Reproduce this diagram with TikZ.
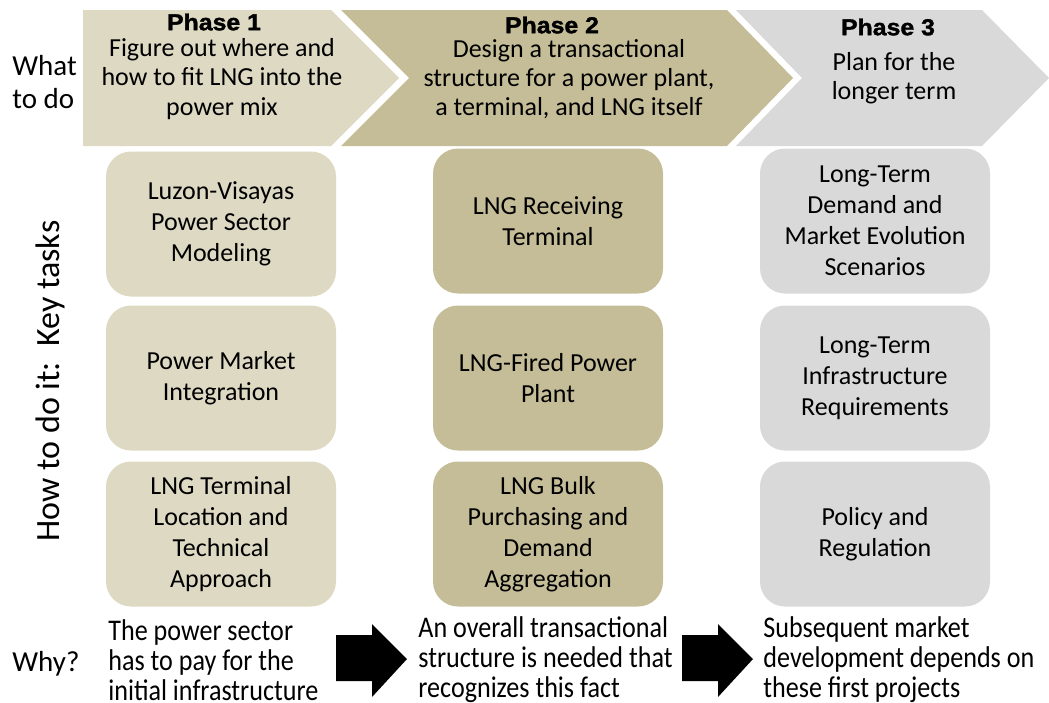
\documentclass[tikz,border=0pt]{standalone}
\usepackage{fontspec}
\setmainfont{Carlito}
\newfontfamily\phasefont{Liberation Sans}[UprightFont={* Bold},FakeBold=1.5,FakeStretch=1.08]
\newfontfamily\narrowfont{Carlito}[FakeStretch=0.87]
\definecolor{tanlight}{HTML}{DDD9C3}
\definecolor{tandark}{HTML}{C4BD97}
\definecolor{greylight}{HTML}{D9D9D9}
\tikzset{
  phasetitle/.style={font=\phasefont\fontsize{11.5}{12}\selectfont, inner sep=0pt},
  whattext/.style={align=center, inner sep=0pt, font=\fontsize{13}{14.6}\selectfont},
  taskbox/.style={rounded corners=12.5pt, minimum width=115pt, minimum height=72.5pt,
    align=center, inner sep=0pt, font=\fontsize{13}{15.5}\selectfont},
  whytext/.style={anchor=west, align=left, inner sep=0pt, font=\narrowfont\fontsize{15}{15}\selectfont},
  sidelabel/.style={inner sep=0pt, font=\fontsize{14.5}{16.5}\selectfont},
}
\begin{document}
\begin{tikzpicture}[x=0.5pt,y=-0.5pt]
 \useasboundingbox (0,0) rectangle (1049,702);
 \clip (0,0) rectangle (1049,702);
 % chevrons
 \fill[tanlight](83,10)--(331,10)--(399,78)--(331,146)--(83,146)--cycle;
 \fill[tandark](341,10)--(727,10)--(793,78)--(727,146)--(341,146)--(409,78)--cycle;
 \fill[greylight](736,10)--(982,10)--(1049,78)--(982,146)--(736,146)--(802,78)--cycle;
 \node[phasetitle] (ph1) at (214,22) {Phase 1};
 \node[phasetitle] (ph2) at (552,25) {Phase 2};
 \node[phasetitle] (ph3) at (888,27) {Phase 3};
 \node[whattext] (what1) at (222,79) {Figure out where and\\how to fit LNG into the\\power mix};
 \node[whattext] (what2) at (569,79) {Design a transactional\\structure for a power plant,\\a terminal, and LNG itself};
 \node[whattext] (what3) at (894,78) {Plan for the\\longer term};
 % side labels
 \node[sidelabel, anchor=west, align=left] (whatlbl) at (12,82) {What\\to do};
 \node[sidelabel, rotate=90, font=\fontsize{17}{17}\selectfont] (howlbl) at (50,381) {How to do it:\ \ Key tasks};
 \node[sidelabel, anchor=west] (whylbl) at (12,664) {Why?};
 % key tasks
 \node[taskbox, fill=tanlight] (t11) at (221,224) {Luzon-Visayas\\Power Sector\\Modeling};
 \node[taskbox, fill=tanlight] (t12) at (221,378) {Power Market\\Integration};
 \node[taskbox, fill=tanlight] (t13) at (221,534) {LNG Terminal\\Location and\\Technical\\Approach};
 \node[taskbox, fill=tandark] (t21) at (548,221) {LNG Receiving\\Terminal};
 \node[taskbox, fill=tandark] (t22) at (548,378) {LNG-Fired Power\\Plant};
 \node[taskbox, fill=tandark] (t23) at (548,534) {LNG Bulk\\Purchasing and\\Demand\\Aggregation};
 \node[taskbox, fill=greylight] (t31) at (875,221) {Long-Term\\Demand and\\Market Evolution\\Scenarios};
 \node[taskbox, fill=greylight] (t32) at (875,378) {Long-Term\\Infrastructure\\Requirements};
 \node[taskbox, fill=greylight] (t33) at (875,534) {Policy and\\Regulation};
 % why
 \node[whytext] (why1) at (108,660) {The power sector\\has to pay for the\\initial infrastructure};
 \node[whytext] (why2) at (418,660) {An overall transactional\\structure is needed that\\recognizes this fact};
 \node[whytext] (why3) at (763,660) {Subsequent market\\development depends on\\these first projects};
 % block arrows
 \foreach \ax in {336,682}
  \fill[black](\ax,635)--(\ax+36,635)--(\ax+36,624)--(\ax+71,659)--(\ax+36,697)--(\ax+36,681)--(\ax,681)--cycle;
\end{tikzpicture}
\end{document}
